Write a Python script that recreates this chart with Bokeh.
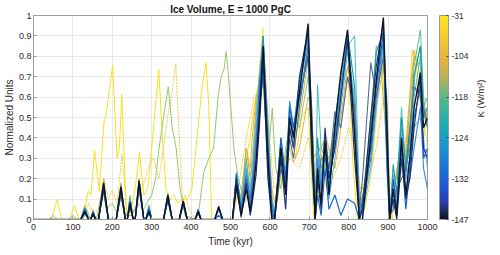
import numpy as np
from bokeh.plotting import figure
from bokeh.models import ColorBar, LinearColorMapper, FixedTicker, Range1d, LinearAxis
from bokeh.embed import file_html
from bokeh.resources import INLINE

# ---------------- texts / ticks ----------------
TITLE = "Ice Volume, E = 1000 PgC"
X_LABEL = "Time (kyr)"
Y_LABEL = "Normalized Units"
CB_LABEL = "K (W/m²)"
x_ticks = [0, 100, 200, 300, 400, 500, 600, 700, 800, 900, 1000]
y_ticks = [0, 0.1, 0.2, 0.3, 0.4, 0.5, 0.6, 0.7, 0.8, 0.9, 1]
y_tick_labels = ["0", "0.1", "0.2", "0.3", "0.4", "0.5", "0.6", "0.7", "0.8", "0.9", "1"]
cb_ticks = [0, 1, 2, 3, 4, 5]
cb_tick_labels = ["-147", "-132", "-124", "-118", "-104", "-31"]

# ---------------- data ----------------
# shared time grid of the bundle of runs (kyr)
t_bundle = [0, 120, 130, 140, 145, 151, 158, 165, 178, 190, 210, 222, 233, 238, 245, 253, 258, 268, 280, 285,
            293, 300, 330, 341, 352, 370, 380, 390, 410, 418, 425, 460, 470, 480,
            505, 515, 527, 540, 550, 555, 565, 573, 583, 595, 605, 612, 628, 640, 650, 660, 675, 697, 706, 715,
            721, 730, 740, 750, 765, 780, 797, 815, 827, 835, 856, 870, 888, 897, 904, 913, 922, 934, 945, 955,
            966, 982, 990, 1000]

b_k147 = [0, 0, 0.04, 0, 0, 0.03, 0, 0, 0.18, 0, 0, 0.16, 0, 0, 0.08, 0, 0, 0.19, 0, 0, 0.04, 0, 0, 0.12, 0, 0, 0.09, 0, 0, 0.04, 0, 0, 0.06, 0,
          0, 0.17, 0.02, 0.15, 0.04, 0.1, 0.28, 0.5, 0.85, 0.3, 0, 0, 0.35, 0.12, 0.5, 0.4, 0.62, 0.96, 0.45, 0,
          0.25, 0.08, 0.38, 0.12, 0.45, 0.72, 0.93, 0.42, 0, 0, 0.4, 0.68, 0.99, 0.45, 0, 0.15, 0.02, 0.4, 0.12, 0.3,
          0.55, 0.72, 0.45, 0.5]
b_k140 = [0, 0, 0.035, 0, 0, 0.025, 0, 0, 0.15, 0, 0, 0.14, 0, 0, 0.07, 0, 0, 0.17, 0, 0, 0.035, 0, 0, 0.1, 0, 0, 0.08, 0, 0, 0.035, 0, 0, 0.065, 0,
          0, 0.2, 0.01, 0.18, 0.02, 0.08, 0.22, 0.45, 0.78, 0.2, 0, 0, 0.3, 0.05, 0.45, 0.35, 0.7, 0.93, 0.3, 0,
          0.2, 0.05, 0.45, 0.2, 0.35, 0.6, 0.88, 0.3, 0, 0.05, 0.5, 0.75, 0.97, 0.4, 0, 0.1, 0, 0.3, 0.1, 0.2,
          0.45, 0.7, 0.35, 0.3]
b_k136 = [0, 0, 0.03, 0, 0, 0.02, 0, 0, 0.14, 0, 0, 0.12, 0, 0, 0.06, 0, 0, 0.15, 0, 0, 0.03, 0, 0, 0.09, 0, 0, 0.07, 0, 0, 0.03, 0, 0, 0.05, 0,
          0, 0.15, 0.03, 0.2, 0.08, 0.12, 0.35, 0.55, 0.7, 0.25, 0.02, 0, 0.25, 0.15, 0.4, 0.3, 0.55, 0.85, 0.55, 0.05,
          0.15, 0.3, 0.3, 0.25, 0.53, 0.45, 0.7, 0.55, 0.05, 0.2, 0.77, 0.6, 0.8, 0.55, 0.02, 0.05, 0.15, 0.2, 0.25, 0.45,
          0.65, 0.6, 0.55, 0.45]
b_k132 = [0, 0, 0.05, 0, 0, 0.035, 0, 0, 0.17, 0, 0, 0.15, 0, 0, 0.09, 0, 0, 0.18, 0, 0, 0.05, 0, 0, 0.11, 0, 0, 0.09, 0, 0, 0.045, 0, 0, 0.02, 0,
          0, 0.22, 0.05, 0.2, 0.06, 0.15, 0.3, 0.6, 0.82, 0.35, 0.05, 0, 0.4, 0.2, 0.55, 0.45, 0.6, 0.8, 0.35, 0,
          0.12, 0.02, 0.25, 0.05, 0.12, 0.02, 0.1, 0.08, 0, 0.1, 0.35, 0.65, 0.92, 0.3, 0, 0.2, 0.05, 0.35, 0.05, 0.25,
          0.5, 0.65, 0.3, 0.35]
b_k128 = [0, 0, 0.05, 0, 0, 0.03, 0, 0, 0.16, 0, 0, 0.15, 0, 0, 0.08, 0, 0, 0.17, 0, 0, 0.06, 0, 0, 0.11, 0, 0, 0.08, 0, 0, 0.04, 0, 0, 0, 0,
          0, 0.2, 0.04, 0.22, 0.1, 0.18, 0.4, 0.65, 0.88, 0.4, 0.08, 0.02, 0.38, 0.18, 0.52, 0.42, 0.65, 0.88, 0.4, 0.02,
          0.3, 0.15, 0.35, 0.15, 0.4, 0.65, 0.9, 0.5, 0.02, 0.05, 0.3, 0.6, 0.88, 0.25, 0, 0.12, 0.08, 0.3, 0.15, 0.2,
          0.35, 0.55, 0.25, 0.15]
b_k126 = [0, 0, 0.04, 0, 0, 0.03, 0, 0, 0.15, 0, 0, 0.13, 0, 0, 0.1, 0, 0, 0.16, 0, 0, 0.05, 0, 0, 0.1, 0, 0, 0.07, 0, 0, 0.03, 0, 0, 0, 0,
          0, 0.18, 0.06, 0.25, 0.12, 0.2, 0.45, 0.62, 0.8, 0.45, 0.1, 0.03, 0.33, 0.22, 0.48, 0.38, 0.58, 0.82, 0.5, 0.05,
          0.35, 0.2, 0.3, 0.1, 0.3, 0.55, 0.82, 0.6, 0.05, 0.02, 0.25, 0.55, 0.85, 0.35, 0.02, 0.22, 0.1, 0.42, 0.2, 0.3,
          0.45, 0.5, 0.4, 0.25]
b_k124 = [0, 0, 0.055, 0, 0, 0.04, 0, 0, 0.17, 0, 0, 0.16, 0, 0, 0.1, 0, 0, 0.19, 0, 0, 0.06, 0, 0, 0.12, 0, 0, 0.09, 0, 0, 0.05, 0, 0, 0, 0,
          0, 0.23, 0.05, 0.25, 0.1, 0.15, 0.38, 0.62, 0.9, 0.35, 0.03, 0, 0.4, 0.15, 0.58, 0.45, 0.68, 0.9, 0.45, 0,
          0.4, 0.18, 0.42, 0.2, 0.48, 0.7, 0.92, 0.65, 0, 0.05, 0.45, 0.82, 0.92, 0.4, 0, 0.27, 0.12, 0.5, 0.22, 0.4,
          0.7, 0.85, 0.5, 0.55]
b_k121 = [0, 0, 0.05, 0, 0, 0.035, 0, 0, 0.16, 0, 0, 0.15, 0, 0, 0.1, 0, 0, 0.18, 0, 0, 0.06, 0, 0, 0.11, 0, 0, 0.08, 0, 0, 0.04, 0, 0, 0, 0,
          0, 0.2, 0.08, 0.28, 0.15, 0.22, 0.5, 0.7, 0.9, 0.45, 0.05, 0.02, 0.35, 0.2, 0.5, 0.4, 0.6, 0.85, 0.5, 0.05,
          0.66, 0.35, 0.3, 0.15, 0.4, 0.6, 0.85, 0.9, 0.1, 0.02, 0.35, 0.7, 0.87, 0.45, 0.05, 0.2, 0.15, 0.55, 0.25, 0.35,
          0.6, 0.8, 0.55, 0.6]
b_k118 = [0, 0, 0.06, 0, 0, 0.04, 0, 0, 0.18, 0, 0, 0.17, 0, 0, 0.11, 0, 0, 0.19, 0, 0, 0.07, 0, 0, 0.12, 0, 0, 0.09, 0, 0, 0.05, 0, 0, 0, 0,
          0, 0.22, 0.07, 0.3, 0.12, 0.2, 0.42, 0.6, 0.85, 0.4, 0.06, 0.03, 0.3, 0.25, 0.5, 0.42, 0.62, 0.8, 0.42, 0.03,
          0.3, 0.25, 0.35, 0.25, 0.45, 0.65, 0.88, 0.55, 0.05, 0.08, 0.5, 0.85, 0.82, 0.5, 0.05, 0.18, 0.2, 0.45, 0.28, 0.45,
          0.75, 0.93, 0.6, 0.45]
b_k108 = [0, 0, 0.06, 0, 0, 0.04, 0, 0, 0.19, 0, 0, 0.17, 0, 0, 0.11, 0, 0, 0.2, 0, 0, 0.07, 0, 0, 0.13, 0, 0, 0.1, 0, 0, 0.05, 0, 0, 0, 0,
          0, 0.2, 0.1, 0.35, 0.2, 0.3, 0.55, 0.7, 0.88, 0.5, 0.1, 0.05, 0.3, 0.28, 0.45, 0.35, 0.5, 0.78, 0.5, 0.08,
          0.2, 0.3, 0.28, 0.3, 0.35, 0.5, 0.75, 0.6, 0.1, 0.1, 0.35, 0.6, 0.8, 0.55, 0.08, 0.15, 0.22, 0.3, 0.3, 0.55,
          0.8, 0.75, 0.55, 0.5]
b_k90 = [0, 0, 0.07, 0, 0, 0.05, 0, 0, 0.2, 0, 0, 0.18, 0, 0, 0.12, 0, 0, 0.2, 0, 0, 0.07, 0, 0, 0.13, 0, 0, 0.1, 0, 0, 0.05, 0, 0, 0, 0,
         0, 0.15, 0.12, 0.35, 0.25, 0.4, 0.6, 0.65, 0.8, 0.45, 0.15, 0.08, 0.28, 0.3, 0.35, 0.28, 0.35, 0.6, 0.55, 0.15,
         0.2, 0.35, 0.4, 0.35, 0.25, 0.45, 0.7, 0.45, 0.12, 0.15, 0.3, 0.55, 0.75, 0.6, 0.1, 0.12, 0.25, 0.35, 0.35, 0.6,
         0.83, 0.7, 0.6, 0.58]

# warmest run (solid yellow)
t_k31 = [0, 45, 60, 72, 92, 104, 115, 125, 139, 146, 155, 167, 179, 184, 201, 212, 218, 224, 236, 248,
         258, 269, 280, 290, 300, 318, 326, 336, 346, 356, 366, 378, 390, 402, 415, 428, 438, 445, 452, 505,
         515, 527, 540, 550, 560, 570, 582, 595, 605, 620, 630, 640, 650, 665, 680, 697, 706, 712, 721, 735,
         745, 760, 775, 790, 797, 810, 822, 840, 856, 870, 882, 890, 900, 910, 920, 934, 945, 961, 975, 990, 1000]
v_k31 = [0, 0, 0.096, 0, 0, 0.07, 0, 0, 0.14, 0.12, 0.34, 0.14, 0.48, 0.51, 0.756, 0.3, 0.35, 0.614, 0.02, 0.05,
         0.15, 0.33, 0.12, 0.15, 0.35, 0.737, 0.44, 0.15, 0.1, 0.12, 0.08, 0.1, 0.1, 0.15, 0.4, 0.65, 0.769, 0.55, 0, 0,
         0.12, 0.05, 0.3, 0.4, 0.55, 0.65, 0.936, 0.3, 0, 0.1, 0.25, 0.3, 0.45, 0.3, 0.5, 0.55, 0.2, 0, 0.1, 0.2,
         0.15, 0.3, 0.45, 0.8, 0.85, 0.3, 0, 0.05, 0.2, 0.5, 0.85, 0.6, 0.1, 0, 0.15, 0.35, 0.2, 0.83, 0.7, 0.4, 0.55]

# dotted yellow run
t_k60 = [0, 125, 140, 152, 165, 179, 190, 200, 212, 225, 236, 250, 262, 275, 295, 305, 318, 330, 340, 350,
         361, 370, 378, 385, 395, 410, 505, 515, 540, 560, 575, 583, 595, 610, 630, 650, 675, 697, 710, 725,
         745, 760, 780, 800, 815, 830, 850, 870, 888, 904, 920, 940, 960, 980, 1000]
v_k60 = [0, 0, 0.08, 0.03, 0.05, 0.2, 0.1, 0.14, 0.08, 0.32, 0.05, 0.02, 0.08, 0.15, 0.27, 0.3, 0.2, 0.35, 0.5, 0.6,
         0.766, 0.4, 0.1, 0.12, 0.05, 0, 0, 0.1, 0.4, 0.6, 0.65, 0.8, 0.5, 0.15, 0.2, 0.3, 0.25, 0.4, 0.3, 0.35,
         0.4, 0.2, 0.3, 0.45, 0.35, 0.15, 0.2, 0.35, 0.6, 0.2, 0.1, 0.3, 0.7, 0.6, 0.35]

# light green run
t_k112 = [0, 40, 50, 60, 90, 100, 110, 125, 135, 145, 150, 160, 175, 185, 200, 210, 222, 235, 250, 265,
          280, 293, 300, 310, 318, 330, 342, 352, 362, 372, 385, 410, 420, 432, 445, 457, 469, 477, 484, 489,
          495, 501, 509, 520, 535, 548, 560, 575, 583, 595, 606, 615, 628, 640, 655, 675, 697, 710, 725, 740,
          765, 790, 800, 815, 827, 845, 865, 880, 895, 905, 920, 934, 950, 970, 982, 992, 1000]
v_k112 = [0, 0, 0.02, 0, 0, 0.02, 0, 0, 0.05, 0, 0.03, 0, 0.15, 0.05, 0.08, 0.04, 0.1, 0.02, 0.02, 0.08,
          0.05, 0.1, 0.12, 0.2, 0.34, 0.5, 0.65, 0.45, 0.35, 0.15, 0.02, 0, 0.05, 0.23, 0.3, 0.35, 0.61, 0.705, 0.74, 0.824,
          0.7, 0.545, 0.34, 0.2, 0.08, 0.15, 0.35, 0.6, 0.7, 0.3, 0.545, 0.25, 0.15, 0.35, 0.5, 0.45, 0.7, 0.3, 0.35, 0.25,
          0.4, 0.7, 0.75, 0.4, 0.05, 0.2, 0.6, 0.8, 0.4, 0.05, 0.2, 0.4, 0.3, 0.75, 0.85, 0.5, 0.45]

# ---------------- styling ----------------
FONT = "Liberation Sans"
AX = "#9a9a9a"
TXT = "#2b2b2b"

# (x, y, colour, width, dash) in drawing order
runs = [
    (t_k31, v_k31, "#f7e21e", 1.0, "solid"),
    (t_k60, v_k60, "#f2cc3c", 1.0, "2 1"),
    (t_k112, v_k112, "#98c56c", 1.0, "solid"),
    (t_bundle, b_k90, "#efb03a", 1.0, "solid"),
    (t_bundle, b_k108, "#c4b64a", 1.0, "solid"),
    (t_bundle, b_k118, "#5dba8c", 1.0, "solid"),
    (t_bundle, b_k121, "#45bfc0", 1.0, "solid"),
    (t_bundle, b_k124, "#1798a8", 1.1, "solid"),
    (t_bundle, b_k126, "#5aaee6", 1.0, "solid"),
    (t_bundle, b_k128, "#2f88de", 1.1, "solid"),
    (t_bundle, b_k132, "#1664c8", 1.2, "solid"),
    (t_bundle, b_k136, "#566a94", 1.1, "solid"),
    (t_bundle, b_k140, "#1f2f78", 1.2, "solid"),
    (t_bundle, b_k147, "#0c1626", 1.4, "solid"),
]

FW, FH = 394, 204
K_STANDOFF = 53

p = figure(frame_width=FW, frame_height=FH, x_range=Range1d(0, 1000), y_range=Range1d(0, 1),
           output_backend="svg", toolbar_location=None,
           min_border_left=0, min_border_right=0, min_border_top=0, min_border_bottom=0)

for xs, ys, col, lw, dash in runs:
    p.line(xs, ys, line_color=col, line_width=lw, line_dash=dash)

p.title.text = TITLE
p.title.align = "center"
p.title.text_font = FONT
p.title.text_font_size = "10px"
p.title.text_font_style = "bold"
p.title.text_color = "#111111"
p.title.standoff = 2
p.title.offset = 0

p.xaxis.ticker = FixedTicker(ticks=x_ticks)
p.yaxis.ticker = FixedTicker(ticks=y_ticks)
p.yaxis.major_label_overrides = dict(zip(y_ticks, y_tick_labels))
p.xaxis.axis_label = X_LABEL
p.yaxis.axis_label = Y_LABEL
for ax in (p.xaxis[0], p.yaxis[0]):
    ax.major_tick_in = 3
    ax.major_tick_out = 0
    ax.minor_tick_line_color = None
    ax.axis_line_color = AX
    ax.major_tick_line_color = AX
    ax.major_label_text_font = FONT
    ax.major_label_text_font_size = "9px"
    ax.major_label_text_color = TXT
    ax.major_label_standoff = 2
    ax.axis_label_text_font = FONT
    ax.axis_label_text_font_size = "10px"
    ax.axis_label_text_font_style = "normal"
    ax.axis_label_text_color = TXT
    ax.axis_label_standoff = 1
p.xaxis.major_label_standoff = 4
p.xaxis.axis_label_standoff = 3
p.outline_line_color = AX
p.grid.grid_line_color = "#e9e9e9"
p.background_fill_color = "white"
p.border_fill_color = "white"

# color bar
stops = [(0.0, "#0a1220"), (0.04, "#1f2a5a"), (0.08, "#2c3aa8"), (0.14, "#2050d0"), (0.25, "#1a73d8"),
         (0.35, "#1a95d0"), (0.45, "#19aab8"), (0.55, "#3db59c"), (0.62, "#6bb87f"), (0.70, "#b7b25a"),
         (0.78, "#e8b03c"), (0.88, "#f5c832"), (1.0, "#f9e61a")]
pos = np.array([s[0] for s in stops])
rgb = np.array([[int(s[1][i:i + 2], 16) for i in (1, 3, 5)] for s in stops], dtype=float)
fr = np.linspace(0, 1, 256)
pal = ["#%02x%02x%02x" % tuple(int(round(np.interp(f, pos, rgb[:, c]))) for c in range(3)) for f in fr]

mapper = LinearColorMapper(palette=pal, low=cb_ticks[0], high=cb_ticks[-1])
cb = ColorBar(color_mapper=mapper, location=(FW + 12, 0), width=9, height=FH, padding=0, margin=0,
              ticker=FixedTicker(ticks=cb_ticks),
              major_label_overrides=dict(zip(cb_ticks, cb_tick_labels)),
              major_label_text_font=FONT, major_label_text_font_size="8.5px", major_label_text_color=TXT,
              label_standoff=3, major_tick_line_color="#444444", major_tick_in=2, major_tick_out=0,
              bar_line_color=AX, border_line_color=None, background_fill_alpha=0)
p.add_layout(cb)

# colour-bar label: an extra, tick-less axis on the right carrying only its label
kax = LinearAxis(axis_label=CB_LABEL, ticker=FixedTicker(ticks=[]), axis_line_color=None,
                 major_tick_line_color=None, minor_tick_line_color=None, major_label_text_font_size="0px",
                 axis_label_standoff=K_STANDOFF, axis_label_text_font=FONT, axis_label_text_font_size="9.5px",
                 axis_label_text_font_style="normal", axis_label_text_color=TXT)
if "axis_label_orientation" in LinearAxis.properties():
    kax.axis_label_orientation = float(np.pi / 2)
p.add_layout(kax, "right")

open("out.html", "w").write(file_html(p, INLINE))
